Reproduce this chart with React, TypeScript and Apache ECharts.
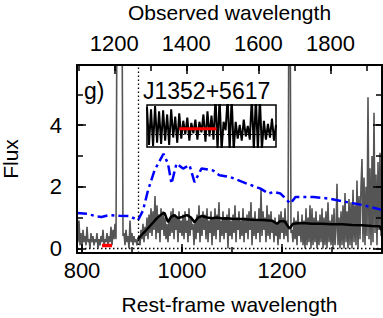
import React, { useEffect, useRef } from 'react';
import * as echarts from 'echarts';

// ---------- data ----------
const WAVE_START = 790; // rest-frame wavelength of first spectrum pixel
const WAVE_STEP = 2;
const specFlux = [
  1.3, 0.2, 0.9, 0.1, 0.5, 0.0, 0.6, 0.2, 0.4, 0.1,
  0.7, 0.2, 0.3, 0.0, 0.5, 0.2, 0.4, 0.1, 0.3, 0.2,
  0.5, 0.0, 0.3, 0.1, 0.4, 0.2, 0.6, 0.1, 0.3, 0.2,
  0.5, 0.1, 0.4, 0.2, 0.7, 0.1, 0.6, 0.3, 0.8, 0.3,
  8, 8, 8, 8, 8, 8, 0.4,
  0.5, 0.1, 0.6, 0.2, 0.4, 0.0, 0.9, 0.2, 0.5, 0.1, 0.4, 0.2, 0.3, 0.1, 0.3,
  0.4, 0.1, 0.6, 0.3, 0.8, 0.2, 0.7, 0.4, 1.0, 0.3,
  1.1, 0.5, 1.3, 0.4, 1.2, 0.6, 1.7, 0.3, 1.4, 0.5,
  1.1, 0.2, 1.3, 0.6, 1.2, 0.4, 1.0, 0.3, 0.8, 0.2,
  0.9, 0.4, 1.2, 0.5, 1.3, 0.3, 1.1, 0.6, 1.0, 0.2,
  1.2, 0.5, 0.9, 0.4,
  1.1, 0.3, 1.2, 0.5, 0.9, 0.2, 1.3, 0.4, 1.0, 0.6,
  0.8, 0.1, 0.9, 0.3, 1.1, 0.5, 1.4, 0.2, 1.0, 0.4,
  1.2, 0.6, 1.1, 0.3, 1.3, 0.2, 0.9, 0.5, 1.2, 0.1,
  1.0, 0.4, 1.3, 0.3, 1.1, 0.6, 1.5, 0.2, 0.9, 0.4,
  1.2, 0.3, 1.0, 0.5, 1.1, 0.0, 1.3, 0.4, 0.9, 0.3,
  1.1, 0.5, 1.4, 0.2, 1.0, 0.6, 1.2, 0.3, 0.9, 0.4,
  1.3, 0.2, 1.0, 0.5, 1.1, 0.3, 1.2, 0.6, 1.5, 0.1,
  1.0, 0.4, 1.2, 0.3, 0.9, 0.5, 1.3, 0.2, 1.9, 0.4,
  1.2, 0.6, 1.0, 0.2, 1.4, 0.4, 1.1, 0.3, 1.2, 0.5,
  0.9, 0.2, 1.0, 0.4, 0.8, 0.1, 1.1, 0.3, 1.2, 0.5,
  1.0, 0.3, 1.3, 0.4, 0.9, 0.2,
  9, 9,
  0.5,
  0.6, 0.2, 1.0, 0.3, 0.9, 0.1, 1.2, 0.4, 0.8, 0.2,
  1.1, 0.1, 0.9, 0.0, 1.3, 0.1, 1.0, 0.2, 1.4, 0.0,
  1.3, 0.1, 1.0, 0.2, 1.2, 0.0, 0.9, 0.1, 1.1, 0.2,
  1.3, 0.0, 1.0, 0.1, 1.2, 0.0, 1.5, 0.2, 0.9, 0.1,
  1.1, 0.0, 1.3, 0.1, 0.6, 2.1, 0.1, 1.0, 0.0, 1.2,
  0.1, 1.4, 0.0, 1.8, 0.2, 1.2, 0.0, 1.6, 0.1, 1.5,
  0.0, 1.9, 0.2, 1.4, 0.1, 2.2, 0.0, 1.7, 0.3, 2.0,
  2.9, 0.2, 2.3, 0.1, 2.0, 0.4, 4.9, 0.3, 2.6, 0.1,
  3.0, 0.2, 4.4, 0.5, 2.4, 0.1, 2.8, 0.6, 3.1, 0.4,
  2.7,
];

const modelWave = [912, 920, 930, 940, 950, 960, 965, 972, 978, 985, 992, 1000, 1010, 1018, 1025, 1032, 1040, 1050, 1060, 1070, 1080, 1090, 1100, 1120, 1140, 1160, 1180, 1190, 1196, 1205, 1215, 1222, 1240, 1260, 1280, 1300, 1320, 1340, 1360, 1380, 1395, 1400];
const modelFlux = [0.30, 0.45, 0.62, 0.80, 0.98, 1.12, 1.15, 0.85, 1.02, 1.08, 0.98, 1.02, 1.08, 1.00, 0.85, 1.00, 1.05, 1.00, 0.98, 1.00, 0.97, 0.98, 0.96, 0.95, 0.93, 0.92, 0.90, 0.80, 0.88, 0.88, 0.64, 0.80, 0.82, 0.80, 0.80, 0.78, 0.78, 0.76, 0.75, 0.73, 0.72, 0.58];

const sedWave = [790, 810, 829, 839, 855, 875, 895, 912, 922, 932, 945, 963, 972, 979, 989, 1002, 1015, 1025, 1039, 1062, 1075, 1097, 1130, 1157, 1173, 1183, 1197, 1217, 1227, 1263, 1297, 1330, 1363, 1400];
const sedFlux = [1.15, 1.12, 1.04, 1.02, 1.08, 1.06, 1.05, 0.91, 1.23, 1.88, 2.53, 3.07, 2.75, 2.1, 2.75, 2.59, 2.7, 2.15, 2.59, 2.53, 2.37, 2.31, 2.1, 1.94, 1.78, 1.83, 1.78, 1.45, 1.67, 1.67, 1.61, 1.5, 1.4, 1.25];

const lycWave = [840, 860];
const lycFlux = [0.09, 0.09];

const lymanLimit = 912;

const insetFlux = [
  2.6, -1.0, 2.4, -1.1, 2.7, -0.8, 2.2,
  -0.9, 2.3, -0.6, 1.9, -1.0, 2.4, -0.3, 1.7, -0.8, 2.0,
  -0.4, 1.3, 0.0, 1.6, -0.6, 1.1, 0.1, 1.4, -0.5, 1.2,
  0.2, 1.9, -0.7, 2.2, -0.2, 1.8, -0.5,
  3.5, -1.5, 3.5, -1.5, 1.2, 0.4, 3.5, -1.5, 3.5, -1.5,
  1.2, -0.4, 0.9, -0.6, 1.4, -0.2, 0.8, -0.5,
  3.5, -1.5, 3.5, -1.5, 3.5, -1.5,
  1.3, -0.5, 1.0, -0.3, 1.5, -0.6, 0.9,
];
const insetRedRange = [16, 34.5];
const insetRedLevel = 0.55;

const OBS_FACTOR = 1.388; // 1 + z
const bottomTickLabels = [800, 1000, 1200];
const topTickLabels = [1200, 1400, 1600, 1800];
const yTickLabels = [0, 2, 4];

const X_MIN = 790, X_MAX = 1400, Y_MIN = -0.15, Y_MAX = 5.95;

// ---------- option ----------
const FONT = "'Liberation Sans', Arial, Helvetica, sans-serif";
const BLACK = '#000';
const lineOn = { show: true, onZero: false, lineStyle: { color: BLACK, width: 2 } };
const lineOff = { show: false, onZero: false };
const majorTick = { show: true, inside: true, length: 9, lineStyle: { color: BLACK, width: 1.5 } };
const minorTickCfg = { show: true, inside: true, length: 6, lineStyle: { color: BLACK, width: 1.5 } };
const noLabel = { show: false };
const noSplit = { show: false };
const fmt = (list: number[]) => (v: number) => (list.some((t) => Math.abs(t - v) < 1e-6) ? String(Math.round(v)) : '');
const tickLabelStyle = { fontSize: 22, color: BLACK, fontFamily: FONT };
const nameStyle = { fontSize: 21, color: BLACK, fontFamily: FONT };

const specData = specFlux.map((f, i) => [WAVE_START + i * WAVE_STEP, f]);
const modelData = modelWave.map((w, i) => [w, modelFlux[i]]);
const sedData = sedWave.map((w, i) => [w, sedFlux[i]]);
const lycData = lycWave.map((w, i) => [w, lycFlux[i]]);
const insetData = insetFlux.map((f, i) => [i, f]);

const option: any = {
  animation: false,
  backgroundColor: '#fff',
  grid: [
    { left: 77, top: 65, width: 305, height: 188, containLabel: false, outerBoundsMode: 'none' },
    { left: 147, top: 105, width: 129, height: 42, show: true, borderColor: BLACK, borderWidth: 1.5, backgroundColor: '#fff', z: 3, containLabel: false, outerBoundsMode: 'none' },
  ],
  xAxis: [
    {
      gridIndex: 0, type: 'value', position: 'bottom', min: X_MIN, max: X_MAX, splitNumber: 3, z: 10,
      axisLine: lineOn, axisTick: majorTick, splitLine: noSplit,
      axisLabel: { ...tickLabelStyle, margin: 6, formatter: fmt(bottomTickLabels) },
      name: 'Rest-frame wavelength', nameLocation: 'middle', nameGap: 41, nameTextStyle: nameStyle,
    },
    {
      gridIndex: 0, type: 'value', position: 'bottom', min: X_MIN, max: X_MAX, splitNumber: 6, z: 10,
      axisLine: lineOff, axisTick: minorTickCfg, axisLabel: noLabel, splitLine: noSplit,
    },
    {
      gridIndex: 0, type: 'value', position: 'top', min: X_MIN * OBS_FACTOR, max: X_MAX * OBS_FACTOR, splitNumber: 4, z: 10,
      axisLine: lineOn, axisTick: majorTick, splitLine: noSplit,
      axisLabel: { ...tickLabelStyle, margin: 11, formatter: fmt(topTickLabels) },
      name: 'Observed wavelength', nameLocation: 'middle', nameGap: 42, nameTextStyle: nameStyle,
    },
    {
      gridIndex: 0, type: 'value', position: 'top', min: X_MIN * OBS_FACTOR, max: X_MAX * OBS_FACTOR, splitNumber: 8, z: 10,
      axisLine: lineOff, axisTick: minorTickCfg, axisLabel: noLabel, splitLine: noSplit,
    },
    { gridIndex: 1, type: 'value', min: 0, max: insetFlux.length - 1, show: false },
  ],
  yAxis: [
    {
      gridIndex: 0, type: 'value', position: 'left', min: Y_MIN, max: Y_MAX, splitNumber: 3, z: 10,
      axisLine: lineOn, axisTick: majorTick, splitLine: noSplit,
      axisLabel: { ...tickLabelStyle, margin: 15, formatter: fmt(yTickLabels) },
      name: 'Flux', nameLocation: 'middle', nameRotate: 90, nameGap: 56, nameTextStyle: nameStyle,
    },
    {
      gridIndex: 0, type: 'value', position: 'left', min: Y_MIN, max: Y_MAX, splitNumber: 6, z: 10,
      axisLine: lineOff, axisTick: minorTickCfg, axisLabel: noLabel, splitLine: noSplit,
    },
    {
      gridIndex: 0, type: 'value', position: 'right', min: Y_MIN, max: Y_MAX, splitNumber: 3, z: 10,
      axisLine: lineOn, axisTick: majorTick, axisLabel: noLabel, splitLine: noSplit,
    },
    {
      gridIndex: 0, type: 'value', position: 'right', min: Y_MIN, max: Y_MAX, splitNumber: 6, z: 10,
      axisLine: lineOff, axisTick: minorTickCfg, axisLabel: noLabel, splitLine: noSplit,
    },
    { gridIndex: 1, type: 'value', min: -1.2, max: 2.8, show: false },
  ],
  series: [
    {
      type: 'line', xAxisIndex: 0, yAxisIndex: 0, data: specData, showSymbol: false, symbol: 'none',
      lineStyle: { color: '#555555', width: 1.6 }, z: 2, clip: true,
      markLine: {
        silent: true, symbol: 'none', label: { show: false },
        lineStyle: { color: BLACK, width: 1.3, type: [1.5, 2.5] },
        data: [{ xAxis: lymanLimit }, { yAxis: 0 }],
      },
    },
    {
      type: 'line', xAxisIndex: 0, yAxisIndex: 0, data: modelData, showSymbol: false, symbol: 'none',
      lineStyle: { color: BLACK, width: 2.5 }, z: 3, clip: true,
    },
    {
      type: 'line', xAxisIndex: 0, yAxisIndex: 0, data: sedData, showSymbol: false, symbol: 'none',
      lineStyle: { color: '#0000ff', width: 2.5, type: [10, 4, 3, 4] }, z: 4, clip: true,
    },
    {
      type: 'line', xAxisIndex: 0, yAxisIndex: 0, data: lycData, showSymbol: false, symbol: 'none',
      lineStyle: { color: '#ff0000', width: 3.5 }, z: 5,
    },
    {
      type: 'line', xAxisIndex: 4, yAxisIndex: 4, data: insetData, showSymbol: false, symbol: 'none',
      lineStyle: { color: BLACK, width: 2 }, z: 6, clip: true,
      markLine: {
        silent: true, symbol: 'none', label: { show: false },
        lineStyle: { color: BLACK, width: 1.2, type: [1.5, 2.5] },
        data: [{ yAxis: 0 }],
      },
    },
    {
      type: 'line', xAxisIndex: 4, yAxisIndex: 4,
      data: insetRedRange.map((x) => [x, insetRedLevel]), showSymbol: false, symbol: 'none',
      lineStyle: { color: '#ff0000', width: 3 }, z: 7,
    },
  ],
  graphic: [
    { type: 'text', x: 84, y: 79, z: 20, style: { text: 'g)', font: `23px ${FONT}`, fill: BLACK, textVerticalAlign: 'top', verticalAlign: 'top' } },
    { type: 'text', x: 143, y: 79, z: 20, style: { text: 'J1352+5617', font: `23px ${FONT}`, fill: BLACK, textVerticalAlign: 'top', verticalAlign: 'top' } },
  ],
};

export default function App() {
  const ref = useRef<HTMLDivElement>(null);
  useEffect(() => {
    if (!ref.current) return;
    const chart = echarts.init(ref.current, undefined, { renderer: 'svg' });
    chart.setOption(option);
    return () => chart.dispose();
  }, []);
  return <div ref={ref} style={{ position: 'absolute', left: 0, top: 0, width: 383, height: 318 }} />;
}
